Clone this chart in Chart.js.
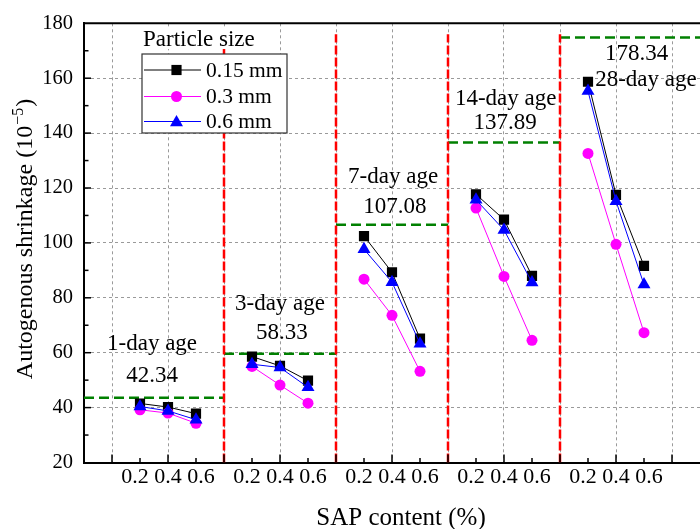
<!DOCTYPE html>
<html><head><meta charset="utf-8">
<script src="https://cdn.jsdelivr.net/npm/chart.js@4/dist/chart.umd.min.js"></script>
<style>html,body{margin:0;padding:0;background:#fff;overflow:hidden}#wrap{width:700px;height:529px;position:relative}</style>
</head><body><div id="wrap"><canvas id="c" width="700" height="529"></canvas></div>
<script>
// ---------- data ----------
const ages = ["1-day age","3-day age","7-day age","14-day age","28-day age"];
const ageMeanLabels = ["42.34","58.33","107.08","137.89","178.34"];
const ageLineLevels = [43.6, 59.6, 106.6, 136.6, 174.8];
const ageSpans = [[0,5],[5,9],[9,13],[13,17],[17,22]];
const sapContent = ["0.2","0.4","0.6"];
const groupPositions = [[2,3,4],[6,7,8],[10,11,12],[14,15,16],[18,19,20]];
const dividerPositions = [5,9,13,17];
const seriesNames = ["0.15 mm","0.3 mm","0.6 mm"];
const shrink015 = [[41.5,40.2,37.8],[58.6,55.2,49.8],[102.5,89.3,65.1],[117.7,108.5,88.0],[158.7,117.5,91.6]];
const shrink03  = [[39.2,38.0,34.3],[55.0,48.2,41.6],[86.8,73.6,53.2],[112.7,87.8,64.5],[132.6,99.5,67.3]];
const shrink06  = [[40.4,38.8,35.6],[55.8,54.6,47.4],[97.7,85.7,63.3],[115.7,104.7,85.6],[155.3,115.2,84.8]];
const yTicks = {min:20, max:180, step:20};

// ---------- build ----------
const FONT = "'Liberation Serif','Times New Roman',serif";
function seriesPoints(vals){
  const pts=[];
  groupPositions.forEach((g,gi)=>{
    g.forEach((p,i)=>pts.push({x:p,y:vals[gi][i]}));
    pts.push({x:g[2]+1,y:null});
  });
  return pts;
}
// one tick label per group: "0.2 0.4 0.6" centred under the middle point
const tickLabelMap = {};
groupPositions.forEach(g=>{tickLabelMap[g[1]]=sapContent.join(' ');});

const styles = [
  {color:'#000000', pointStyle:'rect', radius:7.2},
  {color:'#ff00ff', pointStyle:'circle', radius:5.5},
  {color:'#0000ff', pointStyle:'triangle', radius:7.5}
];
const seriesVals=[shrink015,shrink03,shrink06];
const datasets=[];
seriesVals.forEach((v,i)=>{
  datasets.push({label:seriesNames[i],data:seriesPoints(v),borderColor:styles[i].color,backgroundColor:styles[i].color,
    borderWidth:1,pointStyle:styles[i].pointStyle,pointRadius:styles[i].radius,pointBorderWidth:0,
    pointBackgroundColor:styles[i].color,spanGaps:false,order:3-i});
});
ageLineLevels.forEach((lv,i)=>{
  datasets.push({label:'mean'+i,data:[{x:ageSpans[i][0],y:lv},{x:ageSpans[i][1],y:lv}],borderColor:'#008000',
    borderWidth:2.5,borderDash:[10,5],pointRadius:0,order:10});
});
dividerPositions.forEach((p,i)=>{
  datasets.push({label:'div'+i,data:[{x:p,y:20},{x:p,y:176}],borderColor:'#ff0000',
    borderWidth:2.5,borderDash:[9,3],pointRadius:0,order:9});
});

const annotationLayout = [
  [{x:2.43,y:63.2},{x:2.43,y:51.6}],
  [{x:7.0,y:77.7},{x:7.07,y:67.2}],
  [{x:11.04,y:124.0},{x:11.1,y:113.1}],
  [{x:15.06,y:152.6},{x:15.04,y:143.6}],
  [{x:20.07,y:159.3},{x:19.74,y:168.9}]
];

function drawMarker(ctx,style,x,y,r){
  ctx.beginPath();
  if(style==='rect'){const s=r*Math.SQRT1_2;ctx.rect(x-s,y-s,2*s,2*s);}
  else if(style==='circle'){ctx.arc(x,y,r,0,Math.PI*2);}
  else {for(let k=0;k<3;k++){const a=k*2*Math.PI/3;const px=x+Math.sin(a)*r,py=y-Math.cos(a)*r;k?ctx.lineTo(px,py):ctx.moveTo(px,py);}ctx.closePath();}
  ctx.fill();
}

const decor = {
  id:'decor',
  afterDatasetsDraw(chart){
    const ctx=chart.ctx, xs=chart.scales.x, ys=chart.scales.y, ca=chart.chartArea;
    ctx.save();
    // top border
    ctx.strokeStyle='#000';ctx.lineWidth=2;
    ctx.beginPath();ctx.moveTo(ca.left-1,ca.top);ctx.lineTo(ca.right,ca.top);ctx.stroke();
    // inward ticks
    ctx.lineWidth=1.5;
    for(let p=1;p<22;p++){
      const px=xs.getPixelForValue(p), len=p%2?8:4.5;
      ctx.beginPath();ctx.moveTo(px,ca.bottom);ctx.lineTo(px,ca.bottom-len);ctx.stroke();
    }
    for(let v=yTicks.min+10;v<yTicks.max;v+=10){
      const py=ys.getPixelForValue(v), len=(v%20===0)?7:4.5;
      ctx.beginPath();ctx.moveTo(ca.left,py);ctx.lineTo(ca.left+len,py);ctx.stroke();
    }
    // annotations
    ctx.fillStyle='#000';ctx.textAlign='center';ctx.textBaseline='middle';
    ctx.font='23px '+FONT;
    annotationLayout.forEach((pair,i)=>{
      ctx.fillText(ages[i],xs.getPixelForValue(pair[0].x),ys.getPixelForValue(pair[0].y));
      ctx.fillText(ageMeanLabels[i],xs.getPixelForValue(pair[1].x),ys.getPixelForValue(pair[1].y));
    });
    // legend
    ctx.font='23px '+FONT;ctx.textAlign='left';
    const tw=ctx.measureText('Particle size').width;
    ctx.fillStyle='#fff';ctx.fillRect(141,27,tw+4,22);
    ctx.fillStyle='#000';ctx.fillText('Particle size',143,40);
    ctx.fillStyle='#fff';ctx.fillRect(142,54,145,79);
    ctx.strokeStyle='#333';ctx.lineWidth=1.2;ctx.strokeRect(142,54,145,79);
    const rows=[70,96.5,121.5];
    ctx.font='21.5px '+FONT;
    seriesNames.forEach((n,i)=>{
      const st=styles[i];
      ctx.strokeStyle=st.color;ctx.lineWidth=1;
      ctx.beginPath();ctx.moveTo(144,rows[i]);ctx.lineTo(201,rows[i]);ctx.stroke();
      ctx.fillStyle=st.color;drawMarker(ctx,st.pointStyle,176.5,rows[i]+(st.pointStyle==='triangle'?1:0),st.radius);
      ctx.fillStyle='#000';ctx.fillText(n,206,rows[i]+1);
    });
    // axis titles
    ctx.font='25px '+FONT;ctx.textAlign='center';
    ctx.fillText('SAP content (%)',401,518);
    ctx.save();
    ctx.translate(26,239);ctx.rotate(-Math.PI/2);
    const a='Autogenous shrinkage (10', sup='\u22125', b=')';
    ctx.font='24px '+FONT;const wa=ctx.measureText(a).width, wb=ctx.measureText(b).width;
    ctx.font='16px '+FONT;const ws=ctx.measureText(sup).width;
    const total=wa+ws+wb+2; let x0=-total/2;
    ctx.textAlign='left';
    ctx.font='24px '+FONT;ctx.fillText(a,x0,0);
    ctx.font='16px '+FONT;ctx.fillText(sup,x0+wa+1,-7);
    ctx.font='24px '+FONT;ctx.fillText(b,x0+wa+ws+2,0);
    ctx.restore();
    ctx.restore();
  }
};

new Chart(document.getElementById('c'),{
  type:'line',
  data:{datasets},
  options:{
    responsive:false,animation:false,devicePixelRatio:1,
    layout:{autoPadding:false,padding:{top:20,right:0,left:0,bottom:0}},
    plugins:{legend:{display:false},tooltip:{enabled:false}},
    scales:{
      x:{type:'linear',min:0,max:22,
        afterFit(s){s.height=66.5;s.paddingRight=0;s.paddingLeft=0;},
        afterBuildTicks(s){s.ticks=Array.from({length:23},(_,i)=>({value:i}));},
        ticks:{autoSkip:false,maxRotation:0,minRotation:0,padding:2,color:'#000',font:{family:FONT,size:22},
          callback(v){return tickLabelMap[v]||'';}},
        grid:{drawTicks:false,lineWidth:1,color(c){return (c.tick&&c.tick.value%2===1)?'#9a9a9a':'rgba(0,0,0,0)';}},
        border:{display:true,color:'#000',width:2,dash:[3,3]}
      },
      y:{min:yTicks.min,max:yTicks.max,
        afterFit(s){s.width=84;},
        ticks:{stepSize:yTicks.step,padding:11,color:'#000',font:{family:FONT,size:20.5}},
        grid:{drawTicks:false,lineWidth:1,color(c){return (c.tick&&c.tick.value>yTicks.min&&c.tick.value<yTicks.max)?'#9a9a9a':'rgba(0,0,0,0)';}},
        border:{display:true,color:'#000',width:2,dash:[3,3]}
      }
    }
  },
  plugins:[decor]
});
</script></body></html>
